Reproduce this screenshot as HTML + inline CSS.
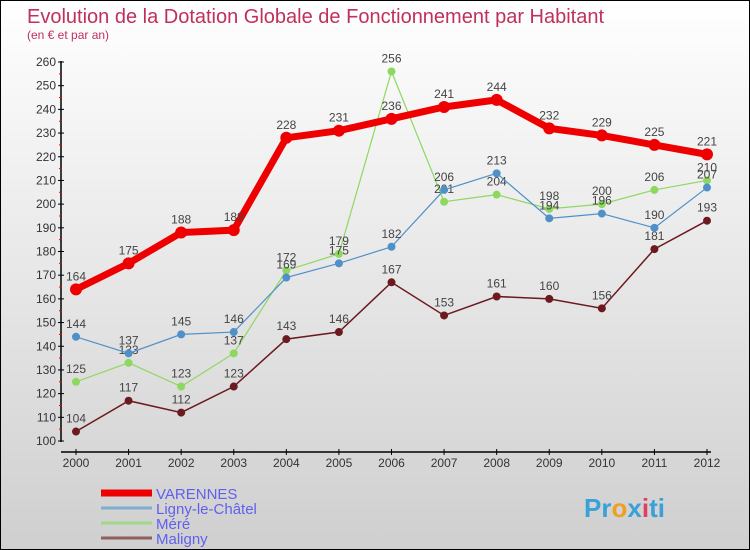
<!DOCTYPE html>
<html><head><meta charset="utf-8"><style>
body{margin:0;}
#c{width:748px;height:548px;border:1px solid #000;background:linear-gradient(#fff,#cfcfcf);position:relative;font-family:"Liberation Sans",sans-serif;overflow:hidden}
</style></head><body>
<div id="c">
<svg id="s" width="748" height="548">
<text x="26" y="22" font-size="20" fill="#c0305a">Evolution de la Dotation Globale de Fonctionnement par Habitant</text>
<text x="26" y="38" font-size="12" fill="#c0305a">(en € et par an)</text>
<g id="axes"></g><g id="series"></g><g id="legend"></g>
<text x="583" y="516" font-size="26" font-weight="bold" fill="#3aa0d8">Pr<tspan fill="#f0a020">o</tspan>x<tspan fill="#e04060">i</tspan>ti</text>
</svg></div>
<script>
const years=["2000","2001","2002","2003","2004","2005","2006","2007","2008","2009","2010","2011","2012"];
const yTicks=[100,110,120,130,140,150,160,170,180,190,200,210,220,230,240,250,260];
const varennes=[164,175,188,189,228,231,236,241,244,232,229,225,221];
const ligny=[144,137,145,146,169,175,182,206,213,194,196,190,207];
const mere=[125,133,123,137,172,179,256,201,204,198,200,206,210];
const maligny=[104,117,112,123,143,146,167,153,161,160,156,181,193];
const NS="http://www.w3.org/2000/svg";
const X=i=>75+i*(631/12);
const Y=v=>440-(v-100)*(379/160);
function mk(t,a,p){const e=document.createElementNS(NS,t);for(const k in a)e.setAttribute(k,a[k]);p.appendChild(e);return e;}
const ax=document.getElementById('axes');
let l=mk('line',{x1:60,y1:60,x2:60,y2:441,stroke:'#000','stroke-width':1.5},ax);

l=mk('line',{x1:60,y1:451,x2:710,y2:451,stroke:'#000','stroke-width':1.5},ax);

yTicks.forEach(v=>{mk('line',{x1:57,y1:Y(v),x2:63,y2:Y(v),stroke:'#000'},ax);
 if(v<260)mk('line',{x1:58,y1:Y(v+5),x2:61,y2:Y(v+5),stroke:'#e00'},ax);
 const t=mk('text',{x:55,y:Y(v)+4,'font-size':12,'text-anchor':'end',fill:'#333'},ax);t.textContent=v;
 });
years.forEach((y,i)=>{mk('line',{x1:X(i),y1:448,x2:X(i),y2:454,stroke:'#000'},ax);
 const t=mk('text',{x:X(i),y:466,'font-size':12,'text-anchor':'middle',fill:'#333'},ax);t.textContent=y;
 });
const sg=document.getElementById('series');
const series=[[maligny,'#6b1a1f',1.5,4,'maligny'],[mere,'#8ed860',1.2,4,'mere'],[ligny,'#5090c8',1.2,4,'ligny'],[varennes,'#ee0000',7,6,'varennes']];
series.forEach(([d,c,w,r,n])=>{
 const p=mk('polyline',{points:d.map((v,i)=>X(i)+','+Y(v)).join(' '),fill:'none',stroke:c,'stroke-width':w},sg);
 
 d.forEach((v,i)=>{const ci=mk('circle',{cx:X(i),cy:Y(v),r:r,fill:c},sg);
  
  const t=mk('text',{x:X(i),y:Y(v)-9,'font-size':12,'text-anchor':'middle',fill:'#444'},sg);t.textContent=v;
  });
});
const lg=document.getElementById('legend');
[['VARENNES','#ee0000',7],['Ligny-le-Châtel','#80acd0',3],['Méré','#a0d888',3],['Maligny','#906060',3]].forEach(([n,c,w],i)=>{
 const y=492+i*15;
 const li=mk('line',{x1:100,y1:y,x2:151,y2:y,stroke:c,'stroke-width':w},lg);
 
 const t=mk('text',{x:155,y:y+6,'font-size':15,fill:'#6060ee'},lg);t.textContent=n;
 
});
</script></body></html>
